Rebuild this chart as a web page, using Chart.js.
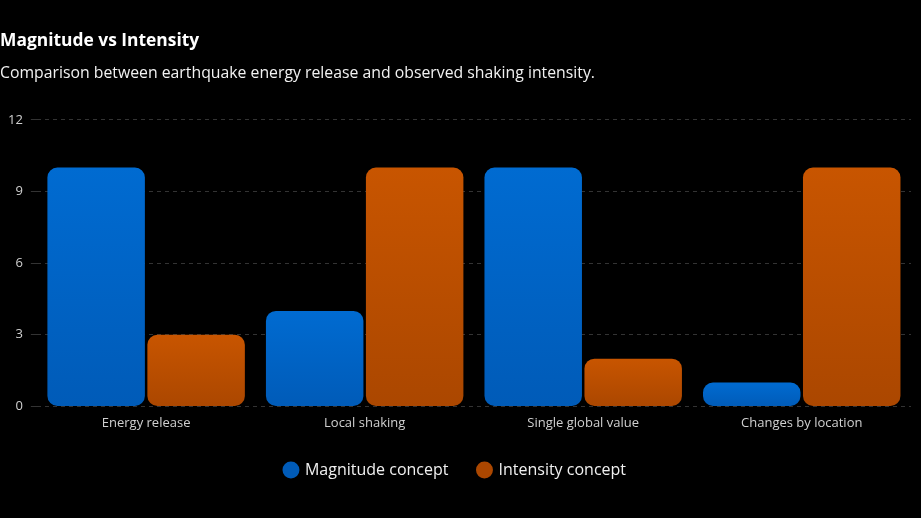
<!DOCTYPE html>
<html lang="en">
<head>
  <meta charset="UTF-8">
  <title>Magnitude vs Intensity</title>
  <script src="https://cdn.jsdelivr.net/npm/chart.js"></script>
  <style>
    html, body { margin: 0; padding: 0; background: #000; }
    .chart-container { position: relative; width: 921px; height: 518px; }
  </style>
</head>
<body>
  <div class="chart-container">
    <canvas id="barChart"></canvas>
  </div>

  <script>
    // Chart data
    const categories = ['Energy release', 'Local shaking', 'Single global value', 'Changes by location'];
    const magnitudeValues = [10, 4, 10, 1];
    const intensityValues = [3, 10, 2, 10];
    const yTicks = [0, 3, 6, 9, 12];

    const FONT = '"Open Sans", "Noto Sans", sans-serif';

    // Vertical gradient per bar, from its top to the zero line
    function barGradient(topColor, bottomColor) {
      return function(context) {
        const chart = context.chart;
        if (!chart.chartArea || context.parsed == null) return topColor;
        const yScale = chart.scales.y;
        const top = yScale.getPixelForValue(context.parsed.y);
        const base = yScale.getPixelForValue(0);
        if (!isFinite(top) || base - top < 1) return topColor;
        const g = chart.ctx.createLinearGradient(0, top, 0, base);
        g.addColorStop(0, topColor);
        g.addColorStop(1, bottomColor);
        return g;
      };
    }

    new Chart(document.getElementById('barChart').getContext('2d'), {
      type: 'bar',
      data: {
        labels: categories,
        datasets: [
          {
            label: 'Magnitude concept',
            data: magnitudeValues,
            backgroundColor: barGradient('#006bd1', '#005bb8'),
            borderRadius: 10,
            borderSkipped: false,
            categoryPercentage: 0.915,
            barPercentage: 0.975
          },
          {
            label: 'Intensity concept',
            data: intensityValues,
            backgroundColor: barGradient('#c85500', '#ab4700'),
            borderRadius: 10,
            borderSkipped: false,
            categoryPercentage: 0.915,
            barPercentage: 0.975
          }
        ]
      },
      options: {
        responsive: true,
        maintainAspectRatio: false,
        animation: false,
        layout: { padding: { left: 0, right: 10, top: 0, bottom: 30 } },
        plugins: {
          title: {
            display: true,
            text: 'Magnitude vs Intensity',
            align: 'start',
            color: '#ffffff',
            font: { family: FONT, size: 17.4, weight: 'bold' },
            padding: { top: 31, bottom: 12 }
          },
          subtitle: {
            display: true,
            text: 'Comparison between earthquake energy release and observed shaking intensity.',
            align: 'start',
            color: '#f2f2f2',
            font: { family: FONT, size: 15.8 },
            padding: { bottom: 37 }
          },
          legend: {
            position: 'bottom',
            labels: {
              color: '#f0f0f0',
              font: { family: FONT, size: 16 },
              usePointStyle: true,
              pointStyle: 'circle',
              boxWidth: 12,
              boxHeight: 12,
              padding: 30
            }
          },
          tooltip: { enabled: false }
        },
        scales: {
          x: {
            grid: { display: false },
            border: { display: false },
            ticks: {
              color: '#d0d0d0',
              font: { family: FONT, size: 13 },
              padding: 1
            }
          },
          y: {
            min: 0,
            max: 12,
            afterBuildTicks: function(axis) {
              axis.ticks = yTicks.map(v => ({ value: v }));
            },
            grid: {
              color: '#333333',
              tickLength: 6,
              tickColor: '#333333'
            },
            border: { display: false, dash: [4, 4] },
            ticks: {
              color: '#d0d0d0',
              font: { family: FONT, size: 13 },
              padding: 8
            }
          }
        }
      }
    });
  </script>
</body>
</html>
